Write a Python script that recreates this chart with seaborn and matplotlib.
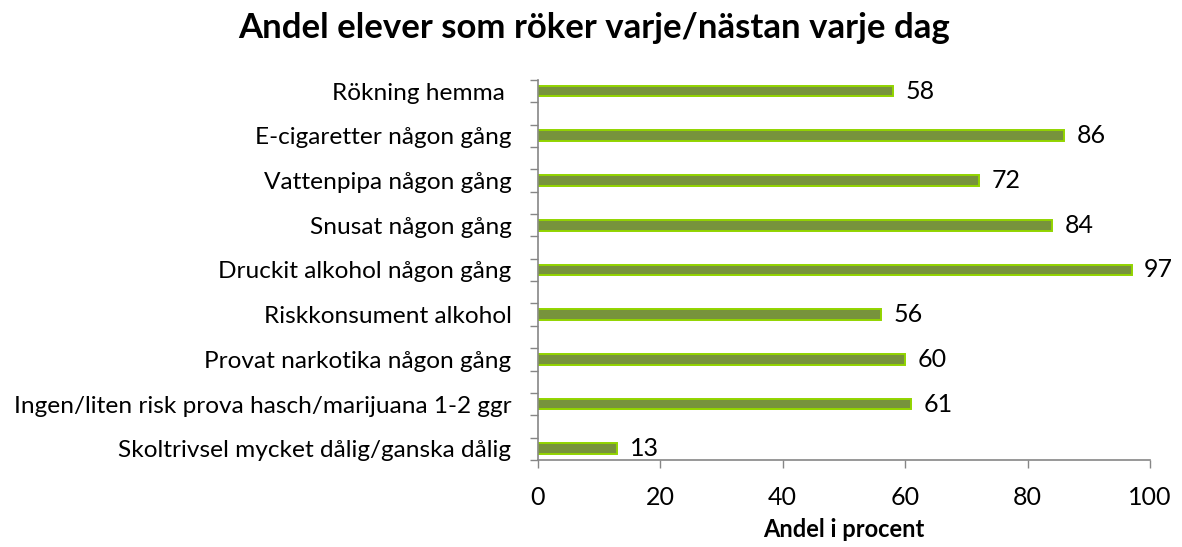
import numpy as np
import pandas as pd
import matplotlib
matplotlib.use("Agg")
import matplotlib.pyplot as plt
import seaborn as sns

# Data
kategorier = [
    "Rökning hemma ",
    "E-cigaretter någon gång",
    "Vattenpipa någon gång",
    "Snusat någon gång",
    "Druckit alkohol någon gång",
    "Riskkonsument alkohol",
    "Provat narkotika någon gång",
    "Ingen/liten risk prova hasch/marijuana 1-2 ggr",
    "Skoltrivsel mycket dålig/ganska dålig",
]
andel = [58, 86, 72, 84, 97, 56, 60, 61, 13]
x_ticks = [0, 20, 40, 60, 80, 100]

df = pd.DataFrame({"Kategori": kategorier, "Andel": andel})

sns.set_theme(style="white")
plt.rcParams["font.family"] = ["Lato", "DejaVu Sans"]
plt.rcParams["text.color"] = "black"
plt.rcParams["xtick.labelcolor"] = "black"
plt.rcParams["ytick.labelcolor"] = "black"
plt.rcParams["axes.labelcolor"] = "black"

fig = plt.figure(figsize=(11.82, 5.47), dpi=100)
ax = fig.add_axes([0.455, 0.159, 0.518, 0.695])

sns.barplot(data=df, x="Andel", y="Kategori", orient="h", width=0.24,
            color="#77933C", edgecolor="#92D400", linewidth=1.4,
            saturation=1, ax=ax)

ax.bar_label(ax.containers[0], fmt="%d", padding=9, fontsize=18, color="black")

ax.set_xlim(0, 100)
ax.set_ylim(8.25, -0.25)
ax.set_xticks(x_ticks)
ax.set_xticklabels([str(t) for t in x_ticks], fontsize=18)

ax.set_yticks(range(len(kategorier)))
ax.set_yticklabels(kategorier, fontsize=17.6)
ax.set_yticks(np.arange(-0.25, 8.5, 0.5), minor=True)
ax.tick_params(axis="y", which="major", length=0, pad=19)
ax.tick_params(axis="y", which="minor", left=True, length=6, width=1, color="#868686")
ax.tick_params(axis="x", which="major", bottom=True, length=6, width=1, color="#868686", pad=13)

for side in ["top", "right"]:
    ax.spines[side].set_visible(False)
for side in ["left", "bottom"]:
    ax.spines[side].set_color("#868686")
    ax.spines[side].set_linewidth(1.2)

ax.set_ylabel("")
ax.set_xlabel("Andel i procent", fontsize=17, fontweight="bold", labelpad=6)
fig.suptitle("Andel elever som röker varje/nästan varje dag",
             fontsize=25, fontweight="bold", x=0.503, y=0.978)

fig.savefig("out.png", dpi=100)
